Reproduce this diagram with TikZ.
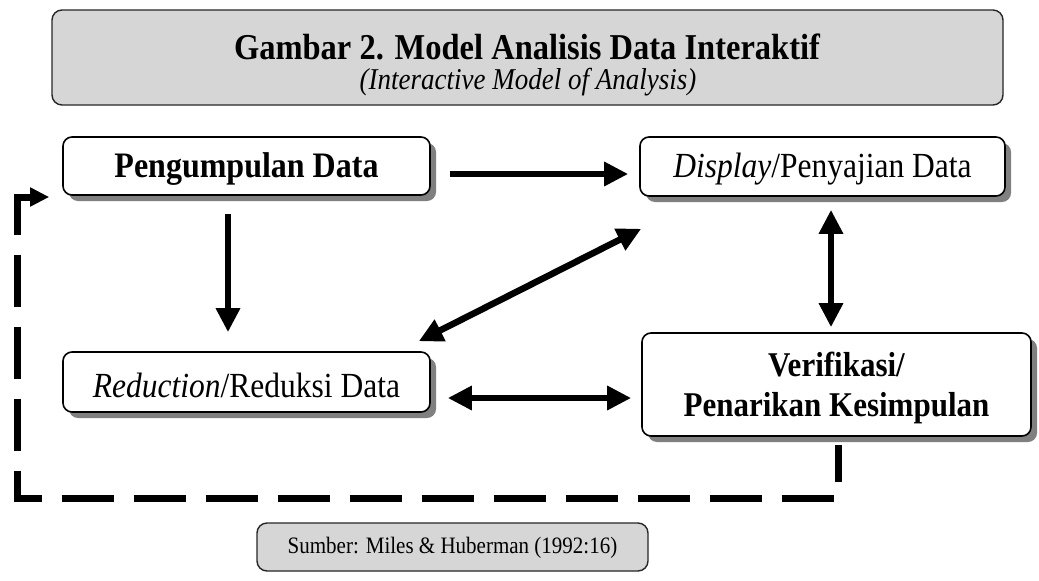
\documentclass[tikz,border=0pt]{standalone}
\usepackage{fontspec}
\usepackage{graphicx}
\setmainfont{Liberation Serif}
\usetikzlibrary{arrows.meta,shadows,calc}
\definecolor{boxgray}{HTML}{D6D6D6}
\definecolor{shadowgray}{HTML}{808080}
\newcommand{\vtx}[1]{\raisebox{-3pt}[\height][\depth]{\scalebox{1}[1.12]{#1}}}
\begin{document}
\begin{tikzpicture}[x=1pt,y=-1pt,
  box/.style={draw, line width=1.6pt, rounded corners=9pt, fill=white, inner sep=0pt, align=center,
    drop shadow={shadow xshift=6pt, shadow yshift=-6pt, fill=shadowgray, opacity=1}},
  graybox/.style={draw=black!85, line width=1.4pt, rounded corners=10pt, fill=boxgray, inner sep=0pt, align=center},
  arr/.style={line width=6.5pt, -{Triangle[length=24pt,width=23pt]}},
  darr/.style={line width=6.5pt, {Triangle[length=24pt,width=23pt]}-{Triangle[length=24pt,width=23pt]}},
  dline/.style={line width=7pt, dash pattern=on 52pt off 20pt, {Triangle[length=19pt,width=18pt]}-},
  maintext/.style={font=\fontsize{31.5}{36}\selectfont},
]
\useasboundingbox (0,0) rectangle (1039,581);

\node[graybox, minimum width=951pt, minimum height=95pt] (title) at (527.5,57.5) {};
\node[font=\fontsize{32.5}{36}\selectfont\bfseries] (t1) at (527,47) {\scalebox{1}[1.12]{Gambar 2. Model Analisis Data Interaktif}};
\node[font=\fontsize{27}{32}\selectfont\itshape] (t2) at (528,82) {\scalebox{1}[1.12]{(Interactive Model of Analysis)}};

\node[box, font=\fontsize{32}{36}\selectfont\bfseries, minimum width=367pt, minimum height=58pt] (peng) at (246.5,166) {\vtx{Pengumpulan Data}};
\node[box, maintext, minimum width=365pt, minimum height=59pt] (disp) at (822.5,166.5) {\vtx{\textit{Display}/Penyajian Data}};
\node[box, maintext, minimum width=367pt, minimum height=60pt] (red) at (246.5,382) {\vtx{\textit{Reduction}/Reduksi Data}};
\node[box, font=\fontsize{31}{40}\selectfont\bfseries, minimum width=389pt, minimum height=103pt] (ver) at (836.5,384.5) {\vtx{Verifikasi/}\\\vtx{Penarikan Kesimpulan}};

\node[graybox, font=\fontsize{21}{24}\selectfont, minimum width=391pt, minimum height=48pt] (src) at (452.5,547) {\raisebox{-1pt}[\height][\depth]{\scalebox{1}[1.12]{Sumber: Miles \& Huberman (1992:16)}}};

\draw[arr] ($(peng.east)+(19,8)$) -- ($(disp.west)+(-11,7.5)$);
\draw[arr] ($(peng.south)+(-18.5,18)$) -- ($(red.north)+(-18.5,-19)$);
\draw[darr] ($(disp.south west)+(2,32)$) -- ($(red.north east)+(-12,-10)$);
\draw[darr] ($(disp.south)+(8.5,13)$) -- ($(ver.north)+(-5.5,-5)$);
\draw[darr] ($(red.east)+(17,16)$) -- ($(ver.west)+(-10,13.5)$);

\coordinate (tip) at ($(peng.west)+(-13,31)$);
\coordinate (bl) at (17,498);
\coordinate (vs) at ($(ver.south)+(1.5,8)$);
\draw[dline] (tip) -- (tip -| bl) -- (bl) -| (vs);
\end{tikzpicture}
\end{document}
